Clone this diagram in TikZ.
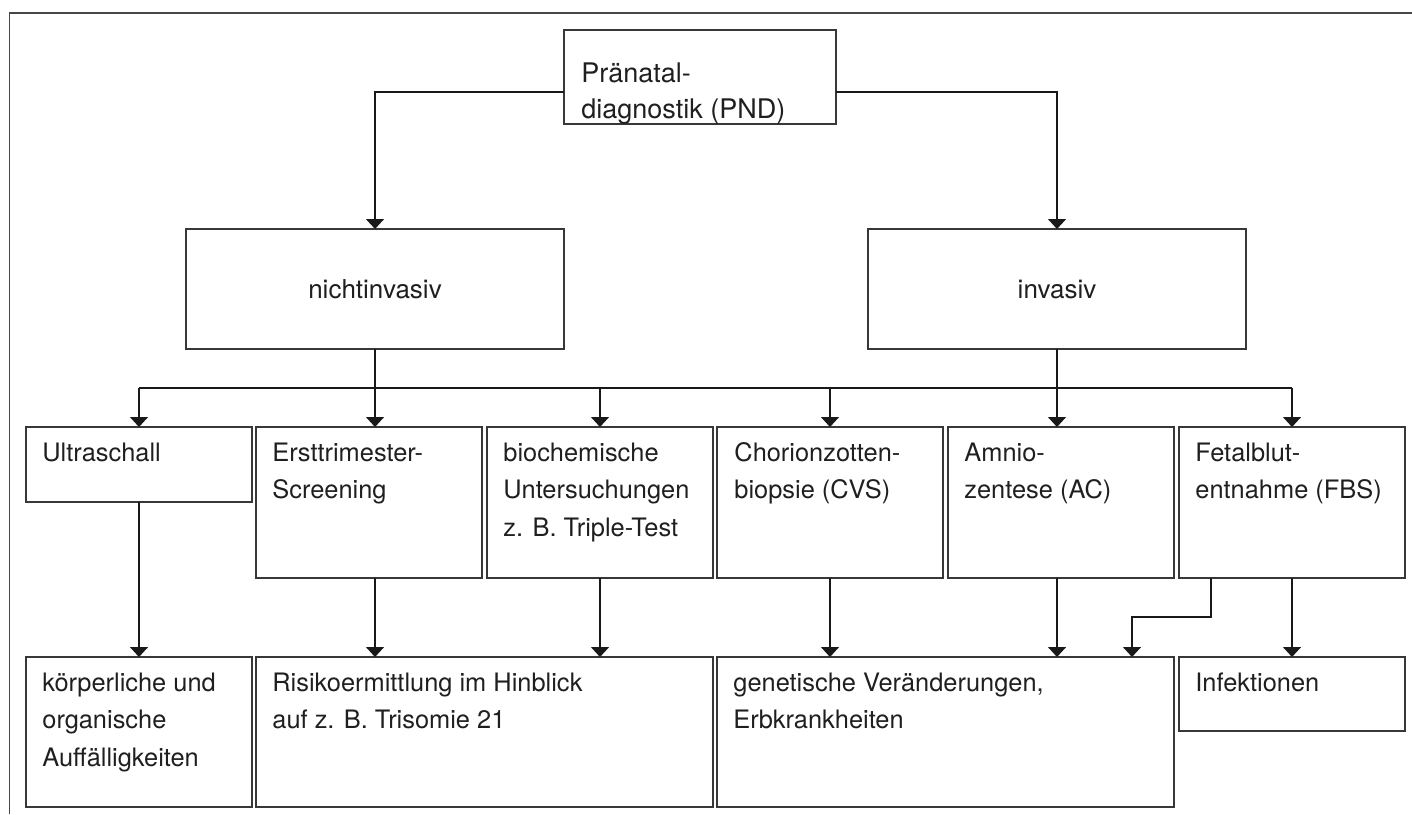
\documentclass[tikz,border=0pt]{standalone}
\usepackage{fontspec}
\setmainfont{TeX Gyre Heros}
\usetikzlibrary{arrows.meta,calc}
% a box given by its corners (x1,y1) and (x2,y2), in drawing units
\newcommand\diagbox[5]{%
  \node[box, minimum width={(#4-#2)*0.5pt}, minimum height={(#5-#3)*0.5pt}]
    (#1) at ({(#2+#4)/2},{(#3+#5)/2}) {};}
% left-aligned lines whose reference point is the first baseline
\newcommand\textlines[1]{\begin{tabular}[t]{@{}l@{}}#1\end{tabular}}
\begin{document}
\begin{tikzpicture}[x=0.5pt,y=-0.5pt,
  box/.style={draw=black!78, line width=0.75pt, inner sep=0pt, outer sep=0pt, rectangle},
  lbl/.style={anchor=base west, inner sep=0pt, text=black!88,
              font=\fontsize{12.7}{18.8}\selectfont},
  clbl/.style={anchor=base, inner sep=0pt, text=black!88,
              font=\fontsize{13}{18.8}\selectfont},
  link/.style={draw=black!90, line width=0.8pt},
  arr/.style={link, -{Triangle[width=9pt,length=5pt]}},
  frame/.style={draw=black!72, line width=0.9pt},
]
\useasboundingbox (0,0) rectangle (1412,814);

% outer frame (top and left edges only)
\draw[frame] (9.5,814) -- (9.5,13) -- (1412,13);

% root
\diagbox{pnd}{564}{30}{836}{124}
\node[lbl, font=\fontsize{13.5}{18.2}\selectfont] (pnd-t) at ($(pnd.north west)+(17,52)$)
  {\textlines{Pränatal-\\diagnostik (PND)}};

% second level
\diagbox{nicht}{186}{229}{564}{349}
\diagbox{inv}{868}{229}{1246}{349}
\node[clbl] (nicht-t) at ($(nicht.center)+(0,9)$) {nichtinvasiv};
\node[clbl] (inv-t) at ($(inv.center)+(0,9)$) {invasiv};

% methods
\diagbox{ultra}{26}{427}{252}{502}
\diagbox{erst}{256}{427}{482}{578}
\diagbox{bio}{487}{427}{713}{578}
\diagbox{cvs}{717}{427}{943}{578}
\diagbox{amnio}{948}{427}{1174}{578}
\diagbox{fbs}{1179}{427}{1405}{578}
\node[lbl] (ultra-t) at ($(ultra.north west)+(16,34)$) {Ultraschall};
\node[lbl] (erst-t) at ($(erst.north west)+(16,34)$) {\textlines{Ersttrimester-\\Screening}};
\node[lbl] (bio-t) at ($(bio.north west)+(16,34)$) {\textlines{biochemische\\Untersuchungen\\z. B. Triple-Test}};
\node[lbl] (cvs-t) at ($(cvs.north west)+(17,34)$) {\textlines{Chorionzotten-\\biopsie (CVS)}};
\node[lbl] (amnio-t) at ($(amnio.north west)+(16,34)$) {\textlines{Amnio-\\zentese (AC)}};
\node[lbl] (fbs-t) at ($(fbs.north west)+(16,34)$) {\textlines{Fetalblut-\\entnahme (FBS)}};

% findings
\diagbox{koerp}{26}{657}{252}{807}
\diagbox{risiko}{256}{657}{713}{807}
\diagbox{genet}{717}{657}{1174}{807}
\diagbox{infekt}{1179}{657}{1405}{731}
\node[lbl] (koerp-t) at ($(koerp.north west)+(16,34)$) {\textlines{körperliche und\\organische\\Auffälligkeiten}};
\node[lbl] (risiko-t) at ($(risiko.north west)+(16,34)$) {\textlines{Risikoermittlung im Hinblick\\auf z. B. Trisomie 21}};
\node[lbl] (genet-t) at ($(genet.north west)+(16,34)$) {\textlines{genetische Veränderungen,\\Erbkrankheiten}};
\node[lbl] (infekt-t) at ($(infekt.north west)+(16,34)$) {Infektionen};

% root to second level
\draw[arr] ($(pnd.west)+(0,15)$) -| (nicht.north);
\draw[arr] ($(pnd.east)+(0,15)$) -| (inv.north);

% distribution bus
\coordinate (bus) at (0,388);
\draw[link] (bus -| ultra.north) -- (bus -| fbs.north);
\draw[arr] (nicht.south) -- (nicht.south |- erst.north);
\draw[arr] (inv.south) -- (inv.south |- amnio.north);
\draw[arr] (bus -| ultra.north) -- (ultra.north);
\draw[arr] (bus -| bio.north) -- (bio.north);
\draw[arr] (bus -| cvs.north) -- (cvs.north);
\draw[arr] (bus -| fbs.north) -- (fbs.north);

% methods to findings
\draw[arr] (ultra.south) -- (ultra.south |- koerp.north);
\draw[arr] (erst.south -| nicht.south) -- (risiko.north -| nicht.south);
\draw[arr] (bio.south) -- (bio.south |- risiko.north);
\draw[arr] (cvs.south) -- (cvs.south |- genet.north);
\draw[arr] (amnio.south -| inv.south) -- (genet.north -| inv.south);
\draw[arr] ($(fbs.south west)+(32,0)$) -- ++(0,39) -| ($(genet.north east)+(-42,0)$);
\draw[arr] (fbs.south) -- (fbs.south |- infekt.north);
\end{tikzpicture}
\end{document}
